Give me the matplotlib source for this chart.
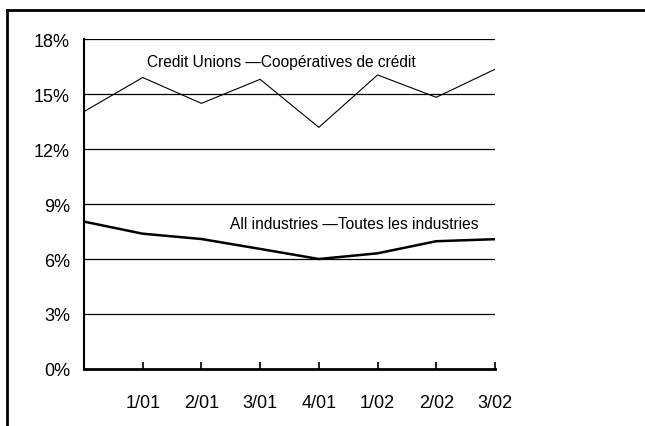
import matplotlib.pyplot as plt
from matplotlib.lines import Line2D

plt.rcParams['font.family'] = ['Liberation Sans', 'DejaVu Sans']

quarters = ['', '1/01', '2/01', '3/01', '4/01', '1/02', '2/02', '3/02']
credit_unions = [14.04, 15.9, 14.49, 15.8, 13.18, 16.04, 14.82, 16.35]
all_industries = [8.04, 7.38, 7.09, 6.55, 6.0, 6.31, 6.97, 7.08]
y_ticks = [0, 3, 6, 9, 12, 15, 18]

fig = plt.figure(figsize=(6.45, 4.27), dpi=100)
ax = fig.add_axes([0.1302, 0.1335, 0.6372, 0.7728])

x = list(range(len(quarters)))
for v in y_ticks[1:]:
    ax.axhline(v, color='black', lw=0.9, zorder=1)
ax.plot(x, credit_unions, color='black', lw=0.8, zorder=3)
ax.plot(x, all_industries, color='black', lw=1.8, zorder=3)

ax.set_xlim(0, 7)
ax.set_ylim(0, 18)
ax.set_yticks(y_ticks)
ax.set_yticklabels([f'{v}%' for v in y_ticks])
ax.set_xticks(x[1:])
ax.set_xticklabels(quarters[1:])
ax.tick_params(axis='y', length=0, pad=10, labelsize=13)
ax.tick_params(axis='x', direction='in', length=5, width=1.2, pad=18, labelsize=13)

for s in ['top', 'right']:
    ax.spines[s].set_visible(False)
ax.spines['left'].set_linewidth(1.5)
ax.spines['bottom'].set_linewidth(2)

ax.text(1.08, 16.8, 'Credit Unions \u2014Coopératives de crédit', fontsize=11.2,
        va='center', ha='left')
ax.text(2.48, 7.95, 'All industries \u2014Toutes les industries', fontsize=11.2,
        va='center', ha='left')

# open frame: top and left edges only
fig.add_artist(Line2D([0.0109, 1.0], [0.9742, 0.9742], color='black', lw=2,
                      transform=fig.transFigure))
fig.add_artist(Line2D([0.0109, 0.0109], [0.0, 0.9742], color='black', lw=2,
                      transform=fig.transFigure))

fig.savefig('out.png', dpi=100)
